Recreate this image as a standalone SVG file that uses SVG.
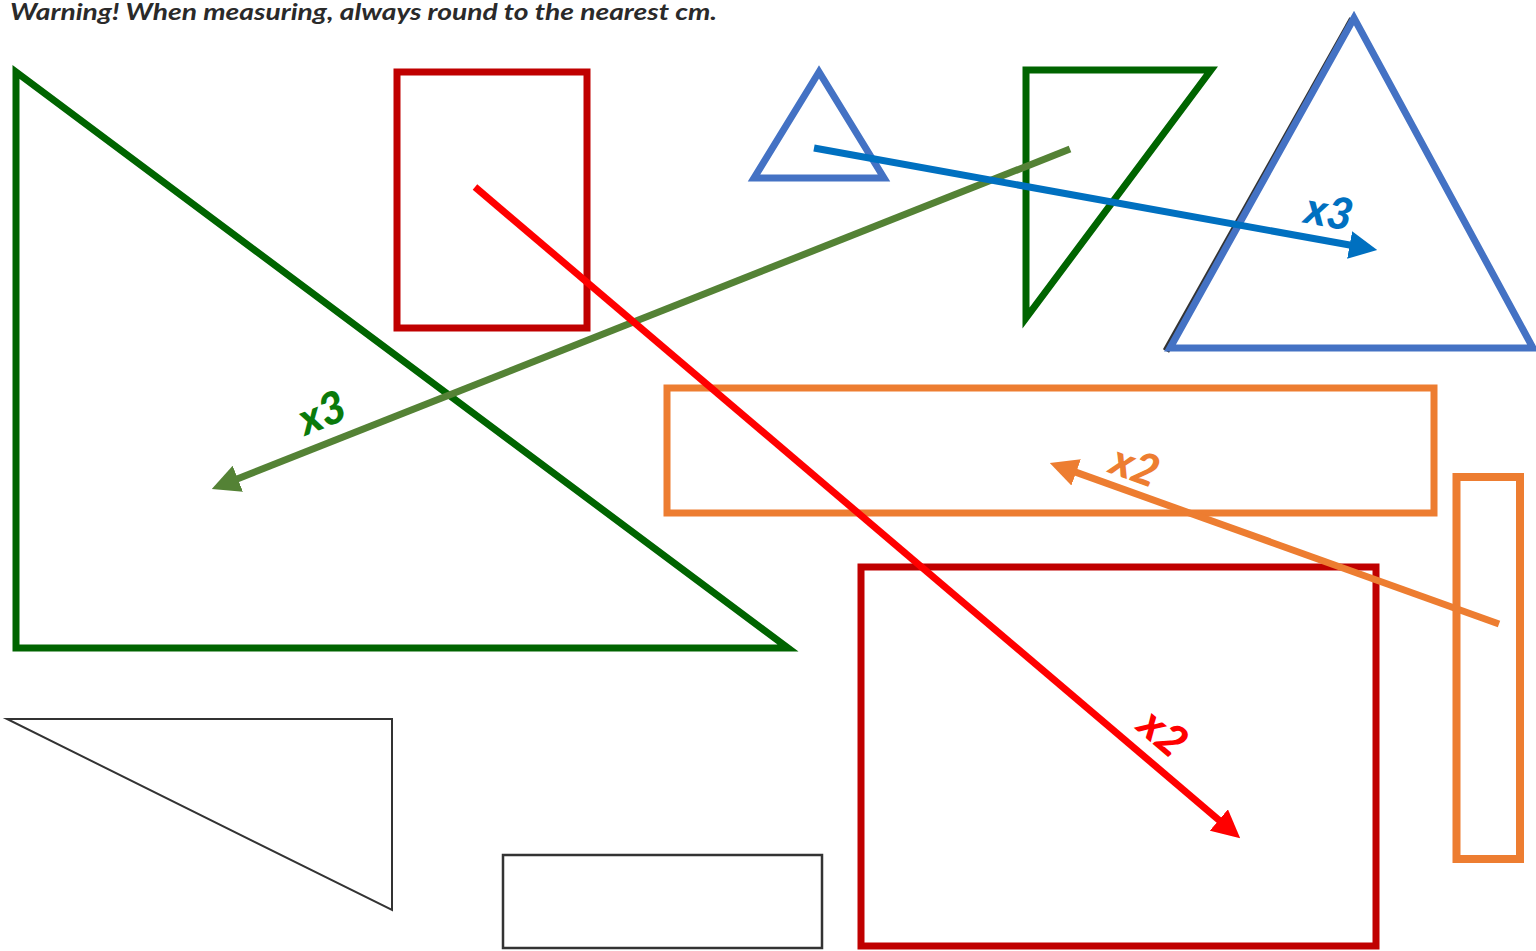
<svg xmlns="http://www.w3.org/2000/svg" width="1536" height="951" viewBox="0 0 1536 951">
<style>
.shape{fill:none;stroke-linejoin:miter;stroke-miterlimit:10}
.arrow{fill:none;stroke-width:7;stroke-linecap:butt}
.lbl{font-family:Lato,"Open Sans","Liberation Sans",sans-serif;font-weight:900;font-style:italic;font-size:44px;text-anchor:middle}
</style>
<defs>
<marker id="mG" viewBox="0 0 10 10" refX="1" refY="5" markerWidth="4" markerHeight="4" orient="auto" markerUnits="strokeWidth"><path d="M0,0 L10,5 L0,10 z" fill="#548235"/></marker>
<marker id="mB" viewBox="0 0 10 10" refX="1" refY="5" markerWidth="4" markerHeight="4" orient="auto" markerUnits="strokeWidth"><path d="M0,0 L10,5 L0,10 z" fill="#0070c0"/></marker>
<marker id="mR" viewBox="0 0 10 10" refX="1" refY="5" markerWidth="4" markerHeight="4" orient="auto" markerUnits="strokeWidth"><path d="M0,0 L10,5 L0,10 z" fill="#ff0000"/></marker>
<marker id="mO" viewBox="0 0 10 10" refX="1" refY="5" markerWidth="4" markerHeight="4" orient="auto" markerUnits="strokeWidth"><path d="M0,0 L10,5 L0,10 z" fill="#ed7d31"/></marker>
</defs>
<rect width="1536" height="951" fill="#ffffff"/>
<text x="10" y="20" font-family="Lato,'Open Sans','Liberation Sans',sans-serif" font-style="italic" font-weight="bold" font-size="23" fill="#2a2a2a" textLength="707" lengthAdjust="spacingAndGlyphs">Warning! When measuring, always round to the nearest cm.</text>

<g id="big-green-triangle"><polygon class="shape" points="16,72 16,648 788,648" stroke="#006400" stroke-width="7"/></g>
<g id="small-red-rect"><rect class="shape" x="397" y="72" width="190" height="256" stroke="#c00000" stroke-width="7"/></g>
<g id="small-blue-triangle"><polygon class="shape" points="819,72 754,178 884,178" stroke="#4472c4" stroke-width="7"/></g>
<g id="green-right-triangle"><polygon class="shape" points="1026,70 1211,70 1026,318" stroke="#006400" stroke-width="7"/></g>
<g id="big-blue-triangle">
<line x1="1352.5" y1="19" x2="1166" y2="351" stroke="#333333" stroke-width="7"/>
<polygon class="shape" points="1354,18 1170,348 1533,348" stroke="#4472c4" stroke-width="7"/>
</g>
<g id="wide-orange-rect"><rect class="shape" x="667" y="388" width="767" height="125" stroke="#ed7d31" stroke-width="7"/></g>
<g id="tall-orange-rect"><rect class="shape" x="1456.5" y="477" width="63.5" height="382" stroke="#ed7d31" stroke-width="8"/></g>
<g id="big-red-rect"><rect class="shape" x="861" y="567" width="515" height="379" stroke="#c00000" stroke-width="7"/></g>
<g id="thin-triangle"><polygon class="shape" points="7,719 392,719 392,910" stroke="#333333" stroke-width="2"/></g>
<g id="thin-rect"><rect class="shape" x="503" y="855" width="319" height="93" stroke="#333333" stroke-width="2.5"/></g>

<g id="connectors">
<line class="arrow" x1="1070" y1="149" x2="235.2" y2="479.8" stroke="#548235" marker-end="url(#mG)"/>
<line class="arrow" x1="814" y1="148" x2="1352.4" y2="245.5" stroke="#0070c0" marker-end="url(#mB)"/>
<line class="arrow" x1="475" y1="187" x2="1221" y2="821.8" stroke="#ff0000" marker-end="url(#mR)"/>
<line class="arrow" x1="1499" y1="624" x2="1073.5" y2="471.4" stroke="#ed7d31" marker-end="url(#mO)"/>
<text class="lbl" fill="#0b7a0b" transform="translate(322,413) rotate(-21.6)" y="15">x3</text>
<text class="lbl" fill="#0070c0" transform="translate(1329,212) rotate(10.3)" y="15">x3</text>
<text class="lbl" fill="#ff0000" transform="translate(1163,733) rotate(40.4)" y="15">x2</text>
<text class="lbl" fill="#ed7d31" transform="translate(1135,466) rotate(19.7)" y="15">x2</text>
</g>
</svg>
